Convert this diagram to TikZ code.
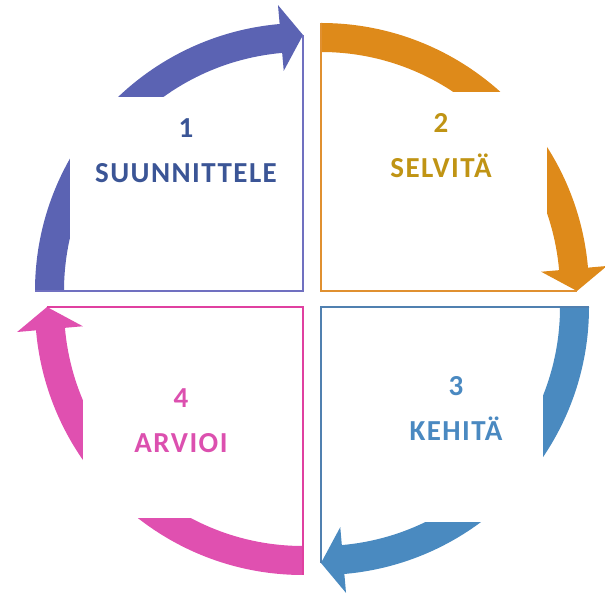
\documentclass[tikz,border=0pt]{standalone}
\usepackage{fontspec}
\setmainfont{Carlito}[LetterSpace=5]
\definecolor{arcA}{HTML}{5B63B3}
\definecolor{arcB}{HTML}{DE8A1A}
\definecolor{arcC}{HTML}{4A8AC0}
\definecolor{arcD}{HTML}{E050B0}
\definecolor{lineA}{HTML}{7070C0}
\definecolor{lineB}{HTML}{E09030}
\definecolor{lineC}{HTML}{5080B0}
\definecolor{lineD}{HTML}{E040A0}
\definecolor{txtA}{HTML}{3B5596}
\definecolor{txtB}{HTML}{C09414}
\definecolor{txtC}{HTML}{4A89C1}
\definecolor{txtD}{HTML}{DC50AF}
\begin{document}
\begin{tikzpicture}[x=1pt, y=1pt,
	phase/.style={fill=white, inner xsep=0pt, align=center, font=\bfseries\fontsize{29}{45}\selectfont},
	frame/.style={line width=2pt}]
	\useasboundingbox (0,0) rectangle (605,594);
	% curved arrows round the four corners
	\foreach \cx/\cy/\a/\col in {303/303/180/arcA, 321/303/90/arcB, 321/287/0/arcC, 303/287/-90/arcD}
	{
		\pgfmathsetmacro\e{\a-85}
		\pgfmathsetmacro\t{\a-90}
		\fill[\col, shift={(\cx,\cy)}] (\a:268) arc[start angle=\a, end angle=\e, radius=268]
			-- (\e:287) -- (\t:256) -- (\e:221) -- (\e:239)
			arc[start angle=\e, end angle=\a, radius=239] -- cycle;
	}
	\node[phase, text=txtA, anchor=north, minimum width=232pt, inner ysep=21pt, text depth=60pt] (suunnittele) at (186, 497) {1\\SUUNNITTELE};
	\node[phase, text=txtB, anchor=north, minimum width=212pt, inner ysep=21pt, text depth=60pt] (selvita) at (441, 502) {2\\SELVITÄ};
	\node[phase, text=txtC, minimum width=174pt, minimum height=228pt] (kehita) at (456, 186) {3\\KEHITÄ};
	\node[phase, text=txtD, minimum width=196pt, minimum height=194pt] (arvioi) at (181, 173) {4\\ARVIOI};
	% the two inner sides of each quarter
	\foreach \cx/\cy/\a/\col in {303/303/180/lineA, 321/303/90/lineB, 321/287/0/lineC, 303/287/-90/lineD}
		\draw[frame, \col, shift={(\cx,\cy)}] (\a:268) -- (0,0) -- (\a-90:256);
\end{tikzpicture}
\end{document}
